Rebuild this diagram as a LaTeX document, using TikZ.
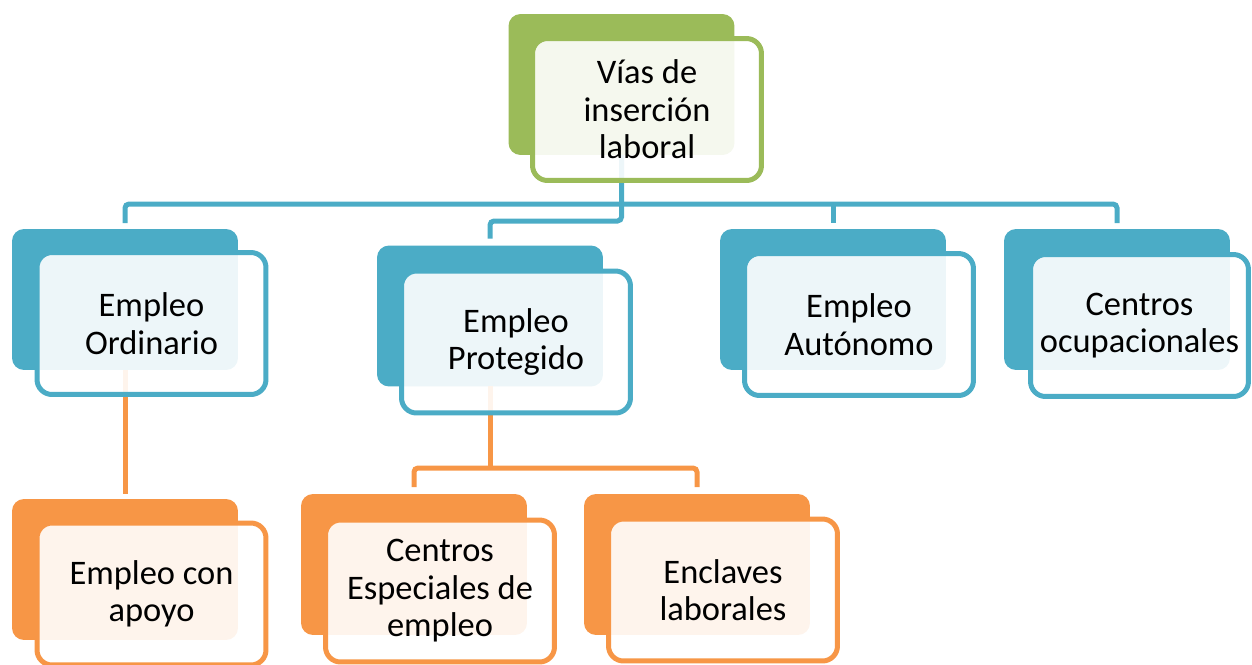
\documentclass[tikz,border=0pt]{standalone}
\usepackage{fontspec}
\setmainfont{Carlito}
\definecolor{cgreen}{HTML}{9BBB59}
\definecolor{cblue}{HTML}{4BACC6}
\definecolor{corange}{HTML}{F79646}
\begin{document}
\begin{tikzpicture}[x=0.02cm,y=-0.02cm,
 backbox/.style={rectangle, rounded corners=0.24cm, fill=#1, minimum width=4.52cm, minimum height=2.82cm, inner sep=0pt, outer sep=0pt},
 frontbox/.style={rectangle, rounded corners=0.3cm, draw=#1, line width=0.1cm, fill=white, fill opacity=0.9, draw opacity=1, text opacity=1, minimum width=4.58cm, minimum height=2.84cm, inner sep=0pt, outer sep=0pt, align=center, font=\fontsize{19.6}{21.3}\selectfont},
 conn/.style={draw=#1, line width=0.1cm, rounded corners=0.08cm}]
\useasboundingbox (0,0) rectangle (1252,664);
% back boxes
\node[backbox=cgreen] (topB) at (621.5,84.5) {};
\node[backbox=cblue] (ordB) at (125,299.5) {};
\node[backbox=cblue] (protB) at (490,316) {};
\node[backbox=cblue] (autB) at (833,299.5) {};
\node[backbox=cblue] (ocupB) at (1117,299.5) {};
\node[backbox=corange] (apoyoB) at (125,569.5) {};
\node[backbox=corange] (ceeB) at (414,564.5) {};
\node[backbox=corange] (enclB) at (697,564.5) {};
% connectors
\draw[conn=cblue, shorten >=0.14cm] (topB.south) -- (topB.south |- 0,221) -| (protB.north);
\draw[conn=cblue, shorten <=0.12cm, shorten >=0.12cm] (ordB.north) |- (ocupB.north |- 0,204) -- (ocupB.north);
\draw[conn=cblue, shorten >=0.12cm] (autB.north |- 0,204) -- (autB.north);
\draw[conn=corange, shorten >=0.1cm] (ordB.south) -- (apoyoB.north);
\draw[conn=corange] (protB.south) -- (protB.south |- 0,468);
\draw[conn=corange, shorten <=0.14cm, shorten >=0.14cm] (ceeB.north) |- (enclB.north |- 0,468) -- (enclB.north);
% front boxes
\node[frontbox=cgreen] (topF) at (647,109.5) {Vías de\\inserción\\laboral};
\node[frontbox=cblue] (ordF) at (151.5,323.5) {Empleo\\Ordinario};
\node[frontbox=cblue] (protF) at (516,342) {Empleo\\Protegido};
\node[frontbox=cblue] (autF) at (859,324.5) {Empleo\\Autónomo};
\node[frontbox=cblue, minimum width=4.36cm] (ocupF) at (1139.5,325.5) {Centros\\ocupacionales};
\node[frontbox=corange] (apoyoF) at (151.5,594) {Empleo con\\apoyo};
\node[frontbox=corange] (ceeF) at (440,591) {Centros\\Especiales de\\empleo};
\node[frontbox=corange] (enclF) at (723,590) {Enclaves\\laborales};
\end{tikzpicture}
\end{document}
